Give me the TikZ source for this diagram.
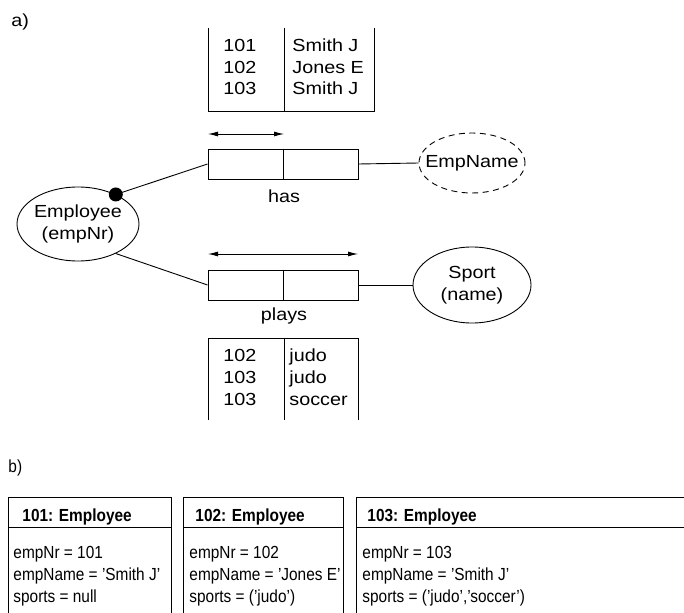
\documentclass[tikz,border=0pt]{standalone}
\usepackage{fontspec}
\setmainfont{Liberation Sans}
\newfontfamily\widefont[FakeStretch=1.13]{Liberation Sans}
\newfontfamily\narrowfont[FakeStretch=0.88]{Liberation Sans}
\usetikzlibrary{arrows.meta,shapes.geometric}

\begin{document}
\begin{tikzpicture}[x=1pt,y=-1pt,line width=0.9pt,
  wtxt/.style={font=\widefont\fontsize{17.5}{21.7}\selectfont,inner sep=0pt},
  ntxt/.style={font=\narrowfont\fontsize{17.5}{22}\selectfont,inner sep=0pt},
  htxt/.style={font=\narrowfont\bfseries\fontsize{17.5}{22}\selectfont,inner sep=0pt},
  entity/.style={draw,ellipse,inner sep=0pt},
  etxt/.style={align=center,inner sep=0pt,font=\widefont\fontsize{17.5}{22}\selectfont},
  rolebox/.style={draw,rectangle,minimum width=150pt,minimum height=30pt,inner sep=0pt},
  span/.style={{Latex[length=10pt,width=5pt]}-{Latex[length=10pt,width=5pt]}},
  rows/.style={wtxt,anchor=base west,align=left}]
\useasboundingbox (0,0) rectangle (684,612);

% ---------- part a) ----------
\node[wtxt,anchor=base west] (la) at (11,27) {a)};

% population of "has"
\draw (208,28) -- (208,111) -- (374,111) -- (374,28);
\draw (284,28) -- (284,111);
\node[rows] (hasA) at (223,95) {101\\102\\103};
\node[rows] (hasB) at (292,95) {Smith J\\Jones E\\Smith J};

% fact type "has"
\node[rolebox] (has) at (283,164) {};
\draw (has.north) -- (has.south);
\coordinate (hasL) at (208,134);
\coordinate (hasR) at (284,134);
\draw[span] (hasL) -- (hasR);
\node[wtxt,anchor=base] (hasLbl) at (284,203) {has};

% object types
\node[entity,minimum width=122pt,minimum height=74pt] (emp) at (78,224) {};
\node[etxt] (empT) at (emp.center) {Employee\\(empNr)};
\node[entity,dashed,dash pattern=on 6pt off 4.5pt,minimum width=106pt,minimum height=60pt]
  (ename) at (472,163) {};
\node[etxt] (enameT) at (ename.center) {EmpName};
\node[entity,minimum width=118pt,minimum height=76pt] (sport) at (472,285) {};
\node[etxt] (sportT) at (sport.center) {Sport\\(name)};

\draw (emp.38) -- (has.west);
\fill (emp.38) circle (7pt);
\draw (has.east) -- (ename.west);

% fact type "plays"
\node[rolebox] (plays) at (283,285) {};
\draw (plays.north) -- (plays.south);
\coordinate (plL) at (208,254);
\coordinate (plR) at (358,254);
\draw[span] (plL) -- (plR);
\node[wtxt,anchor=base] (playsLbl) at (284,320) {plays};
\draw (emp.-38) -- (plays.west);
\draw (plays.east) -- (sport.west);

% population of "plays"
\draw (208,420) -- (208,338) -- (358,338) -- (358,420);
\draw (284,338) -- (284,420);
\node[rows] (plA) at (223,405) {102\\103\\103};
\node[rows] (plB) at (289,405) {judo\\judo\\soccer};

% ---------- part b) ----------
\node[ntxt,anchor=base west] (lb) at (8,472) {b)};

\draw (8,615) -- (8,497) -- (171,497) -- (171,615);
\draw (8,527) -- (171,527);
\draw (183,615) -- (183,497) -- (343,497) -- (343,615);
\draw (183,527) -- (343,527);
\draw (356,615) -- (356,497) -- (690,497);
\draw (356,527) -- (690,527);

\node[htxt,anchor=base west] (h1) at (22,521) {101: Employee};
\node[htxt,anchor=base west] (h2) at (195,521) {102: Employee};
\node[htxt,anchor=base west] (h3) at (367,521) {103: Employee};

\node[ntxt,anchor=base west,align=left] (b1) at (13,602)
  {empNr = 101\\empName = ’Smith J’\\sports = null};
\node[ntxt,anchor=base west,align=left] (b2) at (189,602)
  {empNr = 102\\empName = ’Jones E’\\sports = (’judo’)};
\node[ntxt,anchor=base west,align=left] (b3) at (362,602)
  {empNr = 103\\empName = ’Smith J’\\sports = (’judo’,’soccer’)};
\end{tikzpicture}
\end{document}
